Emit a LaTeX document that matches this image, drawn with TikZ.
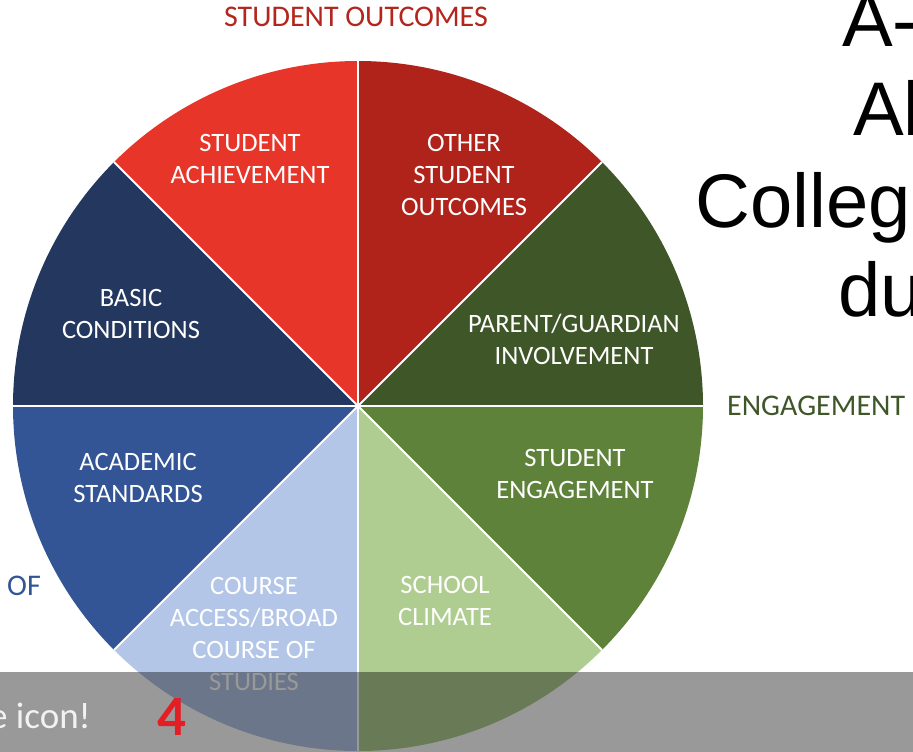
\documentclass[tikz,border=0pt]{standalone}
\usepackage{fontspec}
\setmainfont{Carlito}
\newfontfamily\headfont{Liberation Sans}
\definecolor{parentGreen}{HTML}{3F5628}
\definecolor{engageGreen}{HTML}{5F823B}
\definecolor{climateGreen}{HTML}{AFCD90}
\definecolor{courseBlue}{HTML}{B4C6E7}
\definecolor{academicBlue}{HTML}{335596}
\definecolor{basicBlue}{HTML}{23375F}
\definecolor{achieveRed}{HTML}{E8352A}
\definecolor{otherRed}{HTML}{B0231A}
\definecolor{outcomeRed}{HTML}{B3261E}
\definecolor{fourRed}{HTML}{E31E24}
\tikzset{
    slicetext/.style={text=white, align=center, inner sep=0pt, font=\fontsize{26.5}{32}\selectfont},
    sidetext/.style={inner sep=0pt, anchor=base, font=\fontsize{30}{36}\selectfont},
    headtext/.style={inner sep=0pt, anchor=base west, font=\headfont\fontsize{76}{90}\selectfont}
}
\begin{document}
\begin{tikzpicture}[x=1pt, y=-1pt]
    \useasboundingbox (0,0) rectangle (913,752);
    \coordinate (ctr) at (358,406);

    % the eight slices (y axis points down)
    \foreach \a/\col in {0/parentGreen, -45/otherRed, -90/achieveRed, -135/basicBlue,
        -180/academicBlue, -225/courseBlue, -270/climateGreen, -315/engageGreen}
        \fill[\col] (ctr) -- ++(\a:345) arc[start angle=\a, end angle=\a-45, radius=345] -- cycle;
    \foreach \a in {0,45,...,315}
        \draw[white, line width=2pt] (ctr) -- ++(\a:345);

    \node[slicetext] (achieve) at (250,158.5) {STUDENT\\ACHIEVEMENT};
    \node[slicetext] (other) at (464,175) {OTHER\\STUDENT\\OUTCOMES};
    \node[slicetext] (basic) at (131,313.5) {BASIC\\CONDITIONS};
    \node[slicetext] (parent) at (574,339.5) {PARENT/GUARDIAN\\INVOLVEMENT};
    \node[slicetext] (academic) at (138,478) {ACADEMIC\\STANDARDS};
    \node[slicetext] (engage) at (575,474) {STUDENT\\ENGAGEMENT};
    \node[slicetext] (climate) at (445,600.5) {SCHOOL\\CLIMATE};
    \node[slicetext] (course) at (254,633.5) {COURSE\\ACCESS/BROAD\\COURSE OF\\STUDIES};

    \node[sidetext, text=outcomeRed] (outcomes) at (356,27) {STUDENT OUTCOMES};
    \node[sidetext, anchor=base west, text=parentGreen] (engagement) at (727,415) {ENGAGEMENT};
    \node[sidetext, anchor=base west, text=academicBlue] (of) at (7,595) {OF};

    \node[headtext] (lineA) at (842,47) {A-};
    \node[headtext] (lineB) at (853,135) {Al};
    \node[headtext] (lineC) at (695,227) {College};
    \node[headtext] (lineD) at (838,316) {du};

    % grey banner across the bottom
    \fill[black, opacity=0.4] (0,672) rectangle (913,752);
    \node[inner sep=0pt, anchor=base east, text=white!95!black, font=\fontsize{37}{44}\selectfont] (icon) at (91,728) {e icon!};
    \node[inner sep=0pt, anchor=base west, text=fourRed, font=\bfseries\fontsize{57}{60}\selectfont] (four) at (157,735) {4};
\end{tikzpicture}
\end{document}
